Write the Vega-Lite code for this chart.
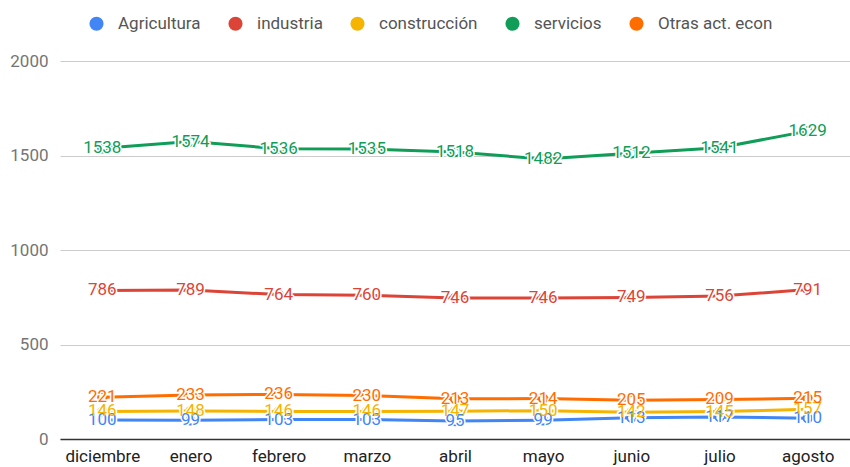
{
  "$schema": "https://vega.github.io/schema/vega-lite/v6.json",
  "width": 790,
  "height": 378,
  "autosize": {"type": "none"},
  "padding": {"left": 60, "top": 61, "right": 0, "bottom": 28},
  "background": "white",
  "config": {
    "view": {"stroke": null},
    "font": "Roboto"
  },
  "data": {
    "values": [
      {"mes": "diciembre", "serie": "Agricultura", "valor": 100},
      {"mes": "enero", "serie": "Agricultura", "valor": 99},
      {"mes": "febrero", "serie": "Agricultura", "valor": 103},
      {"mes": "marzo", "serie": "Agricultura", "valor": 103},
      {"mes": "abril", "serie": "Agricultura", "valor": 95},
      {"mes": "mayo", "serie": "Agricultura", "valor": 99},
      {"mes": "junio", "serie": "Agricultura", "valor": 113},
      {"mes": "julio", "serie": "Agricultura", "valor": 117},
      {"mes": "agosto", "serie": "Agricultura", "valor": 110},
      {"mes": "diciembre", "serie": "industria", "valor": 786},
      {"mes": "enero", "serie": "industria", "valor": 789},
      {"mes": "febrero", "serie": "industria", "valor": 764},
      {"mes": "marzo", "serie": "industria", "valor": 760},
      {"mes": "abril", "serie": "industria", "valor": 746},
      {"mes": "mayo", "serie": "industria", "valor": 746},
      {"mes": "junio", "serie": "industria", "valor": 749},
      {"mes": "julio", "serie": "industria", "valor": 756},
      {"mes": "agosto", "serie": "industria", "valor": 791},
      {"mes": "diciembre", "serie": "construcción", "valor": 146},
      {"mes": "enero", "serie": "construcción", "valor": 148},
      {"mes": "febrero", "serie": "construcción", "valor": 146},
      {"mes": "marzo", "serie": "construcción", "valor": 146},
      {"mes": "abril", "serie": "construcción", "valor": 147},
      {"mes": "mayo", "serie": "construcción", "valor": 150},
      {"mes": "junio", "serie": "construcción", "valor": 142},
      {"mes": "julio", "serie": "construcción", "valor": 145},
      {"mes": "agosto", "serie": "construcción", "valor": 157},
      {"mes": "diciembre", "serie": "servicios", "valor": 1538},
      {"mes": "enero", "serie": "servicios", "valor": 1574},
      {"mes": "febrero", "serie": "servicios", "valor": 1536},
      {"mes": "marzo", "serie": "servicios", "valor": 1535},
      {"mes": "abril", "serie": "servicios", "valor": 1518},
      {"mes": "mayo", "serie": "servicios", "valor": 1482},
      {"mes": "junio", "serie": "servicios", "valor": 1512},
      {"mes": "julio", "serie": "servicios", "valor": 1541},
      {"mes": "agosto", "serie": "servicios", "valor": 1629},
      {"mes": "diciembre", "serie": "Otras act. econ", "valor": 221},
      {"mes": "enero", "serie": "Otras act. econ", "valor": 233},
      {"mes": "febrero", "serie": "Otras act. econ", "valor": 236},
      {"mes": "marzo", "serie": "Otras act. econ", "valor": 230},
      {"mes": "abril", "serie": "Otras act. econ", "valor": 213},
      {"mes": "mayo", "serie": "Otras act. econ", "valor": 214},
      {"mes": "junio", "serie": "Otras act. econ", "valor": 205},
      {"mes": "julio", "serie": "Otras act. econ", "valor": 209},
      {"mes": "agosto", "serie": "Otras act. econ", "valor": 215}
    ]
  },
  "encoding": {
    "x": {
      "field": "mes",
      "type": "ordinal",
      "sort": ["diciembre", "enero", "febrero", "marzo", "abril", "mayo", "junio", "julio", "agosto"],
      "scale": {"type": "point", "padding": 0.48},
      "axis": {
        "title": null,
        "labelAngle": 0,
        "labelFontSize": 17,
        "labelColor": "#222222",
        "labelPadding": 9,
        "ticks": false,
        "domainColor": "#333333",
        "domainWidth": 1.5,
        "grid": false
      }
    },
    "y": {
      "field": "valor",
      "type": "quantitative",
      "scale": {"domain": [0, 2000], "nice": false},
      "axis": {
        "title": null,
        "values": [0, 500, 1000, 1500, 2000],
        "format": "d",
        "labelFontSize": 17,
        "labelColor": "#757575",
        "labelPadding": 12,
        "ticks": false,
        "domain": false,
        "gridColor": "#cccccc",
        "gridWidth": 1
      }
    },
    "color": {
      "field": "serie",
      "type": "nominal",
      "scale": {
        "domain": ["Agricultura", "industria", "construcción", "servicios", "Otras act. econ"],
        "range": ["#4285F4", "#DB4437", "#F4B400", "#0F9D58", "#FF6D01"]
      },
      "legend": {
        "title": null,
        "orient": "none",
        "direction": "horizontal",
        "legendX": 28,
        "legendY": -46,
        "symbolType": "circle",
        "symbolSize": 200,
        "symbolStrokeWidth": 0,
        "symbolOpacity": 1,
        "labelFontSize": 17,
        "labelColor": "#555555",
        "labelOffset": 13,
        "columnPadding": 26,
        "labelLimit": 200
      }
    }
  },
  "layer": [
    {
      "mark": {"type": "line", "strokeWidth": 3},
      "encoding": {"detail": {"field": "serie"}}
    },
    {
      "mark": {"type": "point", "filled": false, "size": 70, "strokeWidth": 2, "fill": "white", "fillOpacity": 1, "opacity": 1}
    },
    {
      "mark": {"type": "text", "fontSize": 17, "stroke": "white", "strokeWidth": 3, "strokeJoin": "round", "baseline": "middle", "align": "center"},
      "encoding": {
        "text": {"field": "valor", "type": "quantitative"},
        "color": {"value": "white"}
      }
    },
    {
      "mark": {"type": "text", "fontSize": 17, "baseline": "middle", "align": "center"},
      "encoding": {
        "text": {"field": "valor", "type": "quantitative"}
      }
    }
  ]
}
